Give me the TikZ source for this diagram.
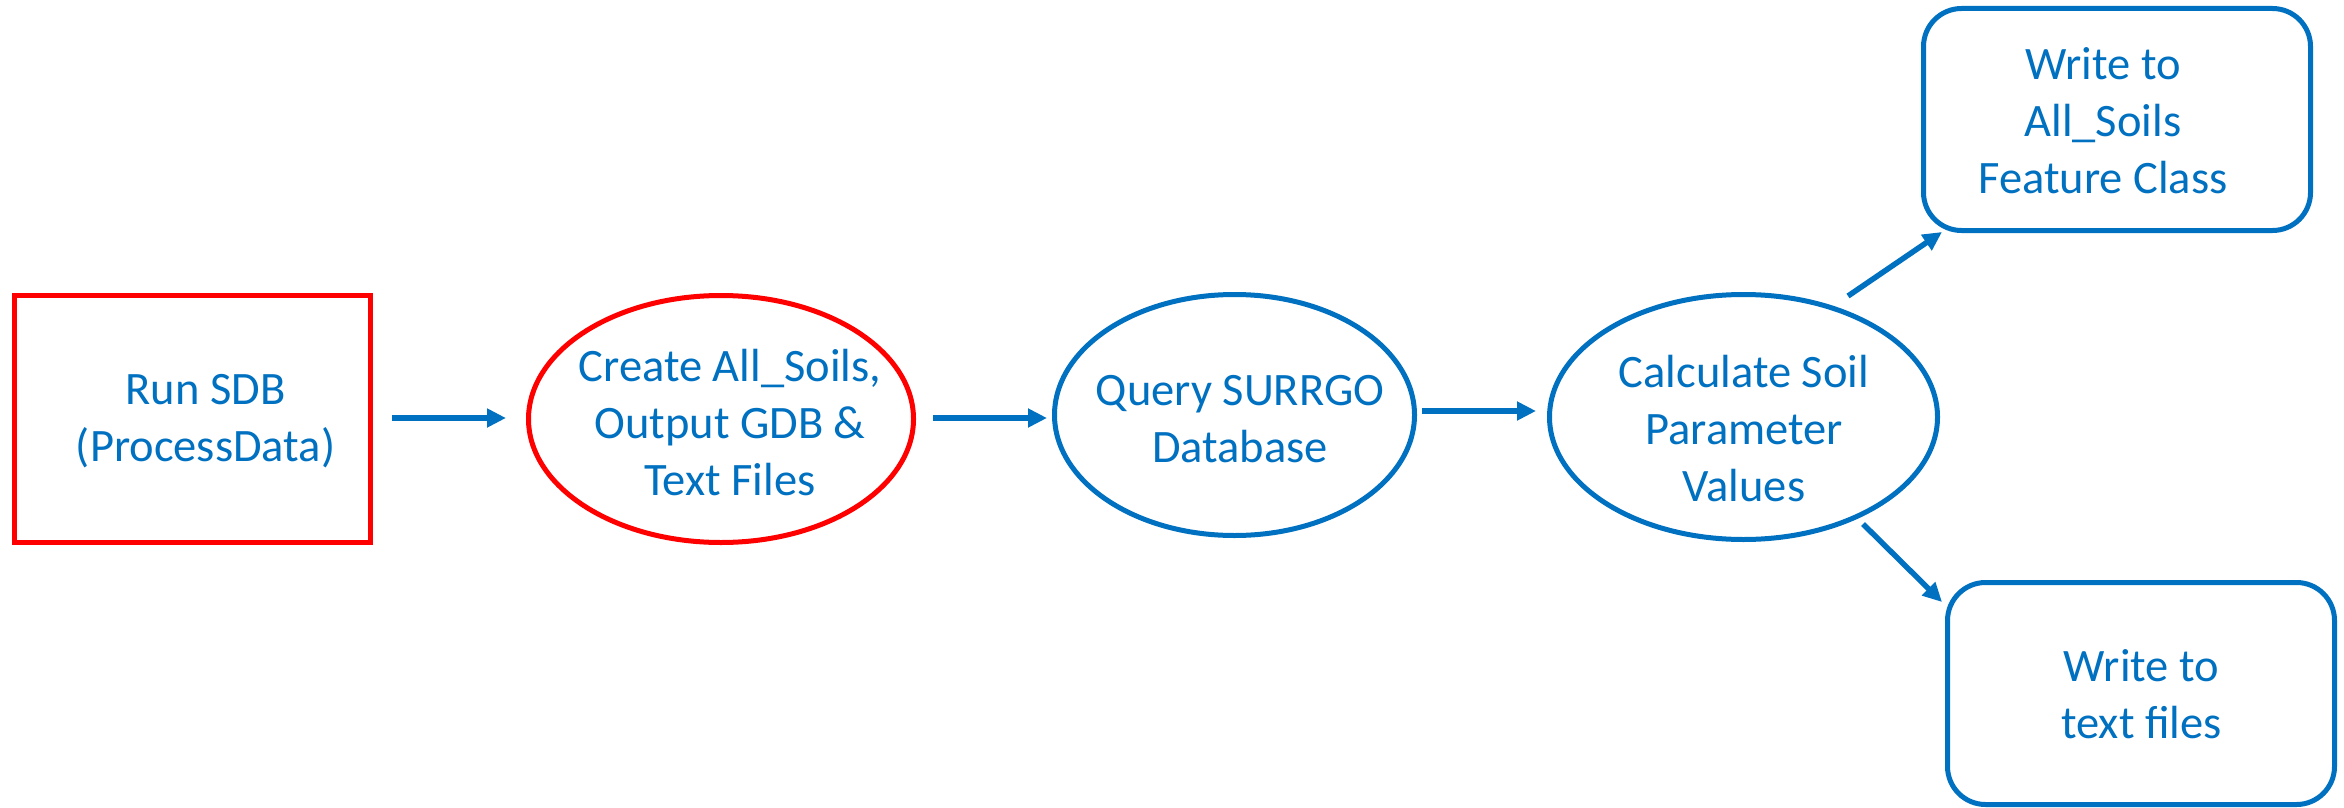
\documentclass[tikz,border=0pt]{standalone}
\usepackage{fontspec}
\setmainfont{Carlito}
\usetikzlibrary{arrows.meta,shapes.geometric}
\definecolor{oblue}{HTML}{0070C0}
\definecolor{ored}{HTML}{FF0000}
\tikzset{
  shapebase/.style={inner sep=0pt, outer sep=0pt, line width=5pt, fill=white},
  redbox/.style={shapebase, draw=ored, rectangle, minimum width=356pt, minimum height=247pt},
  redell/.style={shapebase, draw=ored, ellipse},
  blueell/.style={shapebase, draw=oblue, ellipse},
  roundbox/.style={shapebase, draw=oblue, rectangle, rounded corners=38pt, minimum width=387pt, minimum height=222pt},
  txt/.style={text=oblue, align=center, inner sep=0pt, font=\fontsize{46.5pt}{57pt}\selectfont},
  arr/.style={draw=oblue, line width=5.5pt, -{Triangle[length=19pt,width=18pt]}}
}
\begin{document}
\begin{tikzpicture}[x=1pt,y=-1pt]
\useasboundingbox (0,0) rectangle (2344,808);
% shapes
\node[redbox] (b1) at (192.5,419) {};
\node[redell, minimum width=385pt, minimum height=247pt] (e1) at (721,419) {};
\node[blueell, minimum width=360pt, minimum height=241pt] (q) at (1234.5,415) {};
\node[blueell, minimum width=388pt, minimum height=245pt] (c) at (1743.5,417) {};
\node[roundbox] (w1) at (2117,119.5) {};
\node[roundbox] (w2) at (2141,693.5) {};
% texts
\node[txt] (tb1) at ([shift={(13,2.5)}]b1.center) {Run SDB\\(ProcessData)};
\node[txt] (te1) at ([shift={(9,4)}]e1.center) {Create All\_Soils,\\Output GDB \&\\Text Files};
\node[txt] (tq) at ([shift={(5.5,4.5)}]q.center) {Query SURRGO\\Database};
\node[txt] (tc) at ([shift={(0.5,11.5)}]c.center) {Calculate Soil\\Parameter\\Values};
\node[txt] (tw1) at ([shift={(-14,1.5)}]w1.center) {Write to\\All\_Soils\\Feature Class};
\node[txt] (tw2) at ([shift={(0.5,1)}]w2.center) {Write to\\text files};
% connectors
\draw[arr] ([shift={(199.5,-1)}]b1.center) -- ([shift={(-215,-1)}]e1.center);
\draw[arr] ([shift={(212,-1)}]e1.center) -- ([shift={(-187.5,3)}]q.center);
\draw[arr] ([shift={(187.5,-4)}]q.center) -- ([shift={(-207.5,-6)}]c.center);
\draw[arr] ([shift={(104.5,-121)}]c.center) -- ([shift={(-175,112.5)}]w1.center);
\draw[arr] ([shift={(119.5,107)}]c.center) -- ([shift={(-199,-91.5)}]w2.center);
\end{tikzpicture}
\end{document}
